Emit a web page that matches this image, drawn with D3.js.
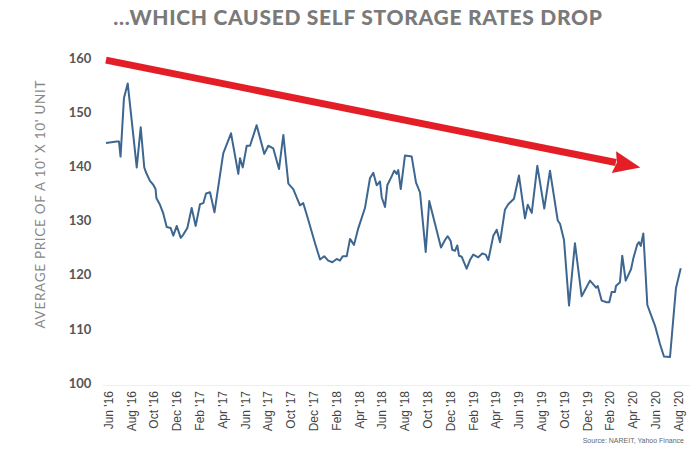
<!DOCTYPE html>
<html>
<head>
<meta charset="utf-8">
<script src="https://cdn.jsdelivr.net/npm/d3@7"></script>
<style>
  html, body { margin: 0; padding: 0; background: #fff; }
  svg { display: block; }
</style>
</head>
<body>
<svg id="chart" width="700" height="450"></svg>
<script>
// Months elapsed since 1 Jun 2016 (x) and average price of a 10'x10' unit (y)
const months = [
  -0.18, 0.76, 0.96, 1.10, 1.40, 1.73, 2.52, 2.87, 3.18, 3.31, 3.68, 3.97, 4.17, 4.25, 4.56, 4.85,
  5.15, 5.50, 5.73, 6.03, 6.38, 6.61, 6.96, 7.34, 7.69, 8.07, 8.36, 8.60, 8.95, 9.34, 9.69,
  10.11, 10.79, 11.43, 11.58, 11.82, 12.17, 12.46, 13.04, 13.71, 14.06, 14.50, 15.00, 15.38,
  15.82, 16.25, 16.84, 17.13, 17.57, 18.16, 18.60, 18.97, 19.32, 19.68, 20.06, 20.35, 20.59,
  20.94, 21.23, 21.58, 21.96, 22.54, 22.98, 23.27, 23.57, 23.86, 24.01, 24.30, 24.50, 24.89,
  25.11, 25.32, 25.46, 25.68, 26.05, 26.64, 27.02, 27.37, 27.87, 28.18, 29.21, 29.56, 29.80,
  30.06, 30.20, 30.44, 30.64, 30.79, 31.03, 31.46, 31.75, 32.04, 32.48, 32.83, 33.13, 33.36,
  33.80, 34.10, 34.39, 34.82, 35.11, 35.61, 36.05, 36.58, 36.82, 37.17, 37.66, 38.27, 38.77,
  39.45, 39.65, 39.85, 40.00, 40.44, 40.96, 41.55, 42.28, 42.57, 42.81, 42.96, 43.31, 43.75,
  43.97, 44.18, 44.47, 44.56, 44.91, 45.11, 45.41, 45.88, 46.08, 46.43, 46.58, 46.73, 46.96,
  47.31, 47.98, 48.42, 48.77, 49.30, 49.82, 50.24
];
const prices = [
  144.3, 144.6, 144.6, 141.8, 152.6, 155.3, 139.8, 147.2, 139.8, 139.0, 137.3, 136.6, 135.8, 134.1, 132.9, 131.3,
  128.8, 128.6, 127.2, 129.0, 126.8, 127.4, 128.6, 132.3, 129.0, 133.0, 133.2, 135.0, 135.2, 131.5, 136.5,
  142.4, 146.1, 138.6, 141.5, 139.8, 143.8, 143.8, 147.6, 142.3, 143.8, 143.3, 139.5, 145.8,
  136.8, 135.8, 132.8, 133.2, 130.1, 125.8, 122.8, 123.4, 122.6, 122.3, 122.9, 122.6, 123.4,
  123.4, 126.6, 125.5, 128.6, 132.3, 137.8, 138.8, 136.5, 137.2, 134.3, 132.5, 136.5, 138.2,
  139.2, 138.6, 139.3, 135.8, 142.0, 141.8, 137.0, 135.2, 124.2, 133.6, 125.0, 126.4, 127.1,
  126.2, 124.6, 124.4, 125.4, 123.5, 123.3, 121.1, 122.7, 123.7, 123.2, 123.9, 123.7, 122.7,
  127.2, 128.3, 126.0, 132.0, 133.0, 134.0, 138.3, 130.4, 132.9, 131.4, 140.1, 132.2, 139.2,
  130.0, 129.4, 127.7, 126.4, 114.3, 125.8, 116.0, 118.9, 118.2, 117.6, 117.9, 115.2, 114.9,
  114.9, 116.8, 116.8, 117.9, 118.6, 123.5, 118.9, 121.0, 123.0, 125.6, 126.0, 125.3, 127.6,
  114.4, 110.6, 107.2, 104.9, 104.8, 117.5, 121.2
];
const xTickMonths = [0, 2, 4, 6, 8, 10, 12, 14, 16, 18, 20, 22, 24, 26, 28, 30, 32, 34, 36, 38, 40, 42, 44, 46, 48, 50];
const xTickLabels = [
  "Jun '16", "Aug '16", "Oct '16", "Dec '16", "Feb '17", "Apr '17", "Jun '17", "Aug '17", "Oct '17",
  "Dec '17", "Feb '18", "Apr '18", "Jun '18", "Aug '18", "Oct '18", "Dec '18", "Feb '19", "Apr '19",
  "Jun '19", "Aug '19", "Oct '19", "Dec '19", "Feb '20", "Apr '20", "Jun '20", "Aug '20"
];
const yTicks = [100, 110, 120, 130, 140, 150, 160];
// Trend arrow annotation (start and tip, in data units)
const arrowStart = { m: -0.18, v: 159.6 };
const arrowEnd = { m: 46.7, v: 139.8 };

const svg = d3.select("#chart");
const x = d3.scaleLinear().domain([-0.5, 51]).range([102.3, 689.4]);
const y = d3.scaleLinear().domain([100, 160]).range([383, 58]);

// Title
svg.append("text")
  .attr("x", 358).attr("y", 25)
  .attr("text-anchor", "middle")
  .attr("font-family", "Lato, 'Open Sans', sans-serif")
  .attr("font-weight", 900)
  .attr("font-size", 21)
  .attr("letter-spacing", 0.7)
  .attr("fill", "#7a7a7a")
  .text("...WHICH CAUSED SELF STORAGE RATES DROP");

// Y axis
const yAxis = svg.append("g")
  .attr("transform", `translate(${x(-0.5)},0)`)
  .call(d3.axisLeft(y).tickValues(yTicks).tickSize(0).tickPadding(11).tickFormat(d3.format("d")));
yAxis.select(".domain").remove();
yAxis.selectAll("text")
  .attr("font-family", "Lato, 'Open Sans', sans-serif")
  .attr("font-weight", 700)
  .attr("font-size", 13)
  .attr("fill", "#555");

// Y axis title
svg.append("text")
  .attr("transform", `translate(45,${(y(100) + y(160)) / 2 - 16}) rotate(-90)`)
  .attr("text-anchor", "middle")
  .attr("font-family", "Lato, 'Open Sans', sans-serif")
  .attr("font-size", 13.5)
  .attr("textLength", 248)
  .attr("lengthAdjust", "spacing")
  .attr("fill", "#888")
  .text("AVERAGE PRICE OF A 10' X 10' UNIT");

// X axis
const xAxis = svg.append("g")
  .attr("transform", `translate(0,${y(100) + 2})`)
  .call(d3.axisBottom(x).tickValues(xTickMonths).tickSize(0)
    .tickFormat((d, i) => xTickLabels[i]));
xAxis.select(".domain").attr("stroke", "#eeeeee");
xAxis.selectAll("text")
  .attr("font-family", "'Liberation Sans', Arial, sans-serif")
  .attr("font-size", 12)
  .attr("fill", "#444")
  .attr("text-anchor", "end")
  .attr("transform", "rotate(-90)")
  .attr("x", -6)
  .attr("y", 0)
  .attr("dy", "0.36em");

// Price line
const line = d3.line().x((d, i) => x(months[i])).y((d, i) => y(prices[i]));
svg.append("path")
  .datum(prices)
  .attr("fill", "none")
  .attr("stroke", "#3d6690")
  .attr("stroke-width", 2)
  .attr("stroke-linejoin", "round")
  .attr("d", line);

// Red trend arrow
const x0 = x(arrowStart.m), y0 = y(arrowStart.v);
const x1 = x(arrowEnd.m), y1 = y(arrowEnd.v);
const ang = Math.atan2(y1 - y0, x1 - x0);
const headLen = 27, headHalf = 11;
const bx = x1 - headLen * Math.cos(ang), by = y1 - headLen * Math.sin(ang);
svg.append("line")
  .attr("x1", x0).attr("y1", y0)
  .attr("x2", bx + 2 * Math.cos(ang)).attr("y2", by + 2 * Math.sin(ang))
  .attr("stroke", "#e41e26")
  .attr("stroke-width", 7);
const nx = -Math.sin(ang), ny = Math.cos(ang);
svg.append("path")
  .attr("d", `M${x1},${y1} L${bx + headHalf * nx},${by + headHalf * ny} L${bx + 3 * Math.cos(ang)},${by + 3 * Math.sin(ang)} L${bx - headHalf * nx},${by - headHalf * ny} Z`)
  .attr("fill", "#e41e26");

// Source note
svg.append("text")
  .attr("x", 684).attr("y", 443)
  .attr("text-anchor", "end")
  .attr("font-family", "'Liberation Sans', Arial, sans-serif")
  .attr("font-size", 7)
  .attr("fill", "#666")
  .text("Source: NAREIT, Yahoo Finance");
</script>
</body>
</html>
